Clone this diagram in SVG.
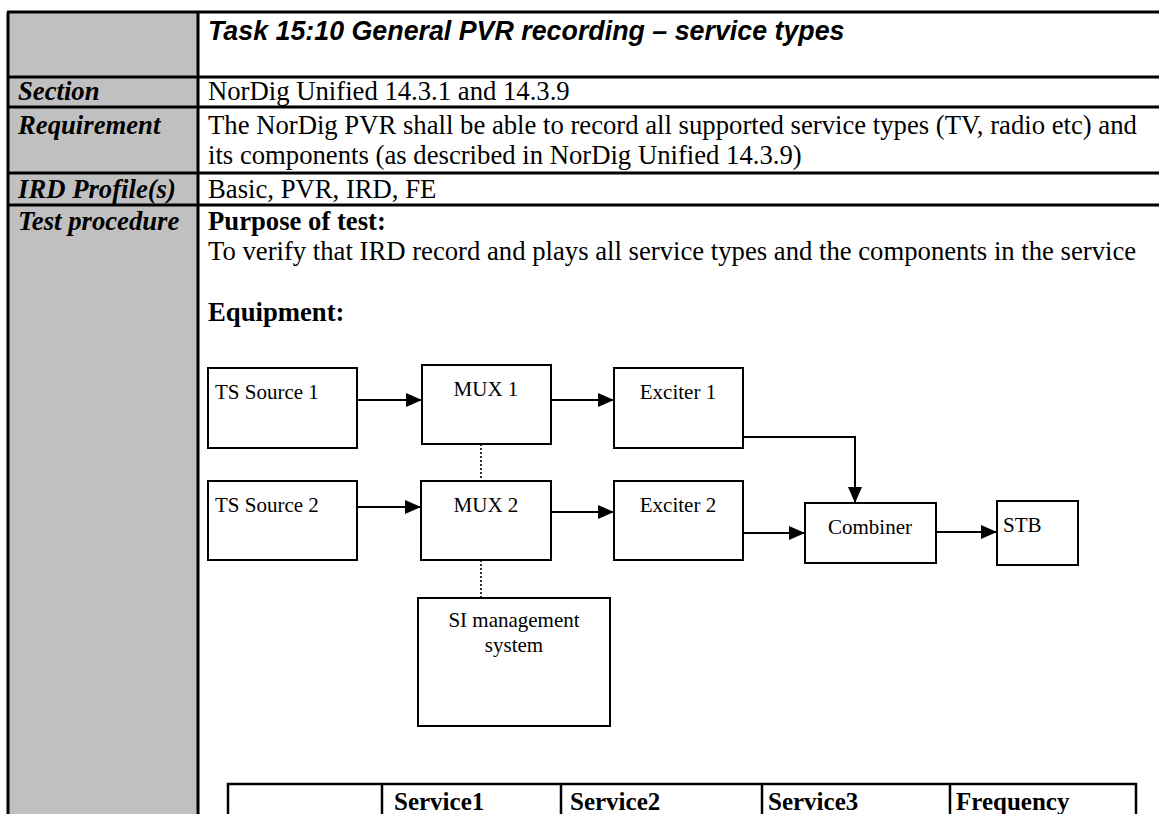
<svg xmlns="http://www.w3.org/2000/svg" width="1159" height="814" viewBox="0 0 1159 814">
<style>
.body{font-family:"Liberation Serif","Times New Roman",serif;font-size:26.7px;fill:#000}
.lbl{font-family:"Liberation Serif","Times New Roman",serif;font-size:26.7px;font-weight:bold;font-style:italic;fill:#000}
.b{font-weight:bold}
.title{font-family:"Liberation Sans",Arial,sans-serif;font-size:26.8px;font-weight:bold;font-style:italic;fill:#000}
.grid{stroke:#000;stroke-width:3;fill:none}
.box{fill:#fff;stroke:#000;stroke-width:2}
.nt{font-family:"Liberation Serif","Times New Roman",serif;font-size:21px;fill:#000}
.mid{text-anchor:middle}
.conn{stroke:#000;stroke-width:2;fill:none}
.dot{stroke:#000;stroke-width:1.6;fill:none;stroke-dasharray:2 2}
.tb{stroke:#000;stroke-width:2.5;fill:none}
.th{font-family:"Liberation Serif","Times New Roman",serif;font-size:25px;font-weight:bold;fill:#000}
</style>
<defs>
<marker id="ah" markerUnits="userSpaceOnUse" markerWidth="16" markerHeight="14" refX="16" refY="7" orient="auto">
<path d="M0,0 L16,7 L0,14 z" fill="#000"/>
</marker>
</defs>
<rect x="0" y="0" width="1159" height="814" fill="#fff"/>
<g id="table">
<rect x="8" y="12" width="190" height="802" fill="#c0c0c0"/>
<line class="grid" x1="8" y1="12" x2="8" y2="814"/>
<line class="grid" x1="198" y1="12" x2="198" y2="814"/>
<line class="grid" x1="7" y1="12" x2="1159" y2="12"/>
<line class="grid" x1="7" y1="77" x2="1159" y2="77"/>
<line class="grid" x1="7" y1="107" x2="1159" y2="107"/>
<line class="grid" x1="7" y1="173" x2="1159" y2="173"/>
<line class="grid" x1="7" y1="205" x2="1159" y2="205"/>
<text class="title" x="208" y="40">Task 15:10 General PVR recording – service types</text>
<text class="lbl" x="18" y="100">Section</text>
<text class="body" x="208" y="100">NorDig Unified 14.3.1 and 14.3.9</text>
<text class="lbl" x="18" y="134">Requirement</text>
<text class="body" x="208" y="134">The NorDig PVR shall be able to record all supported service types (TV, radio etc) and</text>
<text class="body" x="208" y="164">its components (as described in NorDig Unified 14.3.9)</text>
<text class="lbl" x="18" y="198">IRD Profile(s)</text>
<text class="body" x="208" y="198">Basic, PVR, IRD, FE</text>
<text class="lbl" x="18" y="230">Test procedure</text>
<text class="body b" x="208" y="230">Purpose of test:</text>
<text class="body" x="208" y="260">To verify that IRD record and plays all service types and the components in the service</text>
<text class="body b" x="208" y="321">Equipment:</text>
</g>
<g id="connectors">
<line class="conn" x1="357" y1="400" x2="422" y2="400" marker-end="url(#ah)"/>
<line class="conn" x1="551" y1="400" x2="614" y2="400" marker-end="url(#ah)"/>
<polyline class="conn" points="743,437 855,437 855,503" marker-end="url(#ah)"/>
<line class="conn" x1="357" y1="507" x2="421" y2="507" marker-end="url(#ah)"/>
<line class="conn" x1="551" y1="512" x2="614" y2="512" marker-end="url(#ah)"/>
<line class="conn" x1="743" y1="533" x2="805" y2="533" marker-end="url(#ah)"/>
<line class="conn" x1="936" y1="532" x2="997" y2="532" marker-end="url(#ah)"/>
<line class="dot" x1="481" y1="444" x2="481" y2="481"/>
<line class="dot" x1="481" y1="560" x2="481" y2="598"/>
</g>
<g id="ts1"><rect class="box" x="208" y="368" width="149" height="80"/><text class="nt" x="215" y="399">TS Source 1</text></g>
<g id="mux1"><rect class="box" x="422" y="365" width="129" height="79"/><text class="nt mid" x="486" y="396">MUX 1</text></g>
<g id="exc1"><rect class="box" x="614" y="368" width="129" height="80"/><text class="nt mid" x="678" y="399">Exciter 1</text></g>
<g id="ts2"><rect class="box" x="208" y="481" width="149" height="79"/><text class="nt" x="215" y="512">TS Source 2</text></g>
<g id="mux2"><rect class="box" x="421" y="481" width="130" height="79"/><text class="nt mid" x="486" y="512">MUX 2</text></g>
<g id="exc2"><rect class="box" x="614" y="481" width="129" height="79"/><text class="nt mid" x="678" y="512">Exciter 2</text></g>
<g id="combiner"><rect class="box" x="805" y="503" width="131" height="60"/><text class="nt mid" x="870" y="534">Combiner</text></g>
<g id="stb"><rect class="box" x="997" y="501" width="81" height="64"/><text class="nt" x="1003" y="532">STB</text></g>
<g id="si"><rect class="box" x="418" y="598" width="192" height="128"/><text class="nt mid" x="514" y="627">SI management</text><text class="nt mid" x="514" y="652">system</text></g>
<g id="services-table">
<polyline class="tb" points="228,814 228,784 1136,784 1136,814"/>
<line class="tb" x1="382" y1="784" x2="382" y2="814"/>
<line class="tb" x1="561" y1="784" x2="561" y2="814"/>
<line class="tb" x1="762" y1="784" x2="762" y2="814"/>
<line class="tb" x1="950" y1="784" x2="950" y2="814"/>
<text class="th" x="394" y="810">Service1</text>
<text class="th" x="570" y="810">Service2</text>
<text class="th" x="768" y="810">Service3</text>
<text class="th" x="956" y="810">Frequency</text>
</g>
</svg>
